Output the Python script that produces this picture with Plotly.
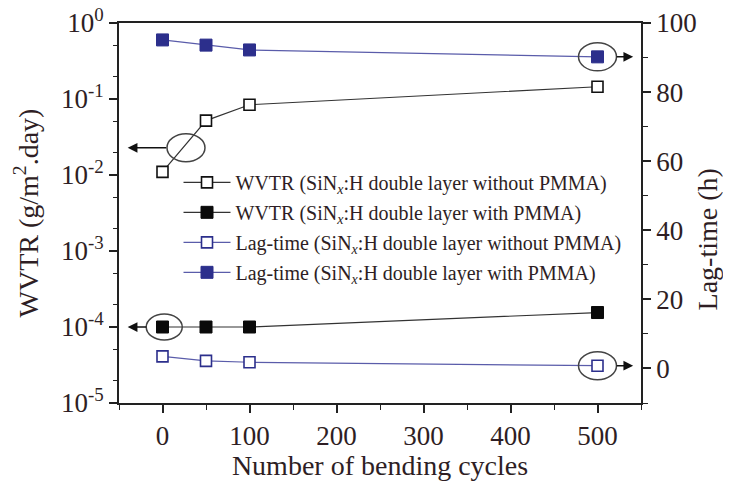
import numpy as np
import plotly.graph_objects as go

# ---- data ----
cycles = [0, 50, 100, 500]
wvtr_without = [0.011, 0.052, 0.084, 0.145]
wvtr_with = [1.0e-4, 1.0e-4, 1.0e-4, 1.55e-4]
lag_without = [3.5, 2.2, 1.8, 0.8]
lag_with = [95.1, 93.6, 92.2, 90.2]

names = [
    "WVTR (SiN<sub><i>x</i></sub>:H double layer without PMMA)",
    "WVTR (SiN<sub><i>x</i></sub>:H double layer with PMMA)",
    "Lag-time (SiN<sub><i>x</i></sub>:H double layer without PMMA)",
    "Lag-time (SiN<sub><i>x</i></sub>:H double layer with PMMA)",
]
left_tickvals = [1e-5, 1e-4, 1e-3, 1e-2, 1e-1, 1e0]
left_ticktext = ["10<sup>-5</sup>", "10<sup>-4</sup>", "10<sup>-3</sup>",
                 "10<sup>-2</sup>", "10<sup>-1</sup>", "10<sup>0</sup>"]
LOG_MIN, LOG_MAX = -5, 0

TXT = "#2e1e24"
AX = "#222222"
BLUE = "#2c2f8c"
BLUE_LINE = "#5a5caa"
FONT = "Liberation Serif"

fig = go.Figure()
fig.add_trace(go.Scatter(x=cycles, y=wvtr_without, name=names[0], legendgroup="a",
                         mode="lines+markers",
                         line=dict(color="#333333", width=1.2),
                         marker=dict(symbol="square", size=11, color="white",
                                     line=dict(color="#111111", width=1.6))))
fig.add_trace(go.Scatter(x=cycles, y=wvtr_with, name=names[1], legendgroup="b",
                         mode="lines+markers",
                         line=dict(color="#333333", width=1.2),
                         marker=dict(symbol="square", size=12, color="#0a0a0a",
                                     line=dict(color="#0a0a0a", width=1))))
fig.add_trace(go.Scatter(x=cycles, y=lag_without, name=names[2], legendgroup="c",
                         yaxis="y2", mode="lines+markers",
                         line=dict(color=BLUE_LINE, width=1.2),
                         marker=dict(symbol="square", size=11, color="white",
                                     line=dict(color=BLUE, width=1.6))))
fig.add_trace(go.Scatter(x=cycles, y=lag_with, name=names[3], legendgroup="d",
                         yaxis="y2", mode="lines+markers",
                         line=dict(color=BLUE_LINE, width=1.2),
                         marker=dict(symbol="square", size=12, color=BLUE,
                                     line=dict(color=BLUE, width=1))))


def log_paper(v):
    return (np.log10(v) - LOG_MIN) / (LOG_MAX - LOG_MIN)


# ellipses (pixel-sized, anchored at data positions)
ell = dict(type="circle", xsizemode="pixel", ysizemode="pixel",
           line=dict(color="#444444", width=1.5), layer="above")
fig.add_shape(**ell, xref="x", yref="paper", xanchor=27, yanchor=log_paper(0.0228),
              x0=-19, x1=19, y0=-14, y1=14)
fig.add_shape(**ell, xref="x", yref="paper", xanchor=2, yanchor=log_paper(1.0e-4),
              x0=-18, x1=18, y0=-13, y1=13)
fig.add_shape(**ell, xref="x", yref="y2", xanchor=500, yanchor=lag_with[3],
              x0=-19, x1=19, y0=-14, y1=14)
fig.add_shape(**ell, xref="x", yref="y2", xanchor=500, yanchor=lag_without[3],
              x0=-19, x1=19, y0=-14, y1=14)

arr = dict(text="", showarrow=True, arrowhead=2, arrowsize=1.3, arrowwidth=1.5,
           arrowcolor="#111111", ay=0)
fig.add_annotation(**arr, xref="x", yref="y", x=-40, y=np.log10(0.0228), ax=40)
fig.add_annotation(**arr, xref="x", yref="y", x=-40, y=np.log10(1.0e-4), ax=20)
fig.add_annotation(**arr, xref="x", yref="y2", x=541, y=lag_with[3], ax=-18)
fig.add_annotation(**arr, xref="x", yref="y2", x=541, y=lag_without[3], ax=-18)

# right axis title as an annotation so it stays inside the page
fig.add_annotation(text="Lag-time (h)", xref="paper", yref="paper",
                   x=1.128, y=0.43, xanchor="center", yanchor="middle",
                   textangle=-90, showarrow=False,
                   font=dict(size=28, family=FONT, color=TXT))

# page body adds an 8px margin, so the figure is drawn 8px smaller and offset
fig.update_layout(
    width=723, height=473,
    margin=dict(l=111, r=90, t=15, b=78),
    paper_bgcolor="white", plot_bgcolor="white",
    font=dict(family=FONT, color=TXT, size=27),
    showlegend=True,
    legend=dict(x=0.114, y=0.632, xanchor="left", yanchor="top",
                bgcolor="rgba(0,0,0,0)", font=dict(size=20, color=TXT),
                tracegroupgap=1, itemwidth=47),
    xaxis=dict(range=[-50, 550], tickvals=[0, 100, 200, 300, 400, 500],
               automargin=False,
               showline=True, linecolor=AX, linewidth=1.6, mirror=True,
               ticks="outside", ticklen=8, tickwidth=1.5, tickcolor=AX,
               minor=dict(dtick=50, tick0=0, ticks="outside", ticklen=5,
                          tickwidth=1.3, tickcolor=AX),
               showgrid=False, zeroline=False,
               title=dict(text="Number of bending cycles", font=dict(size=28),
                          standoff=4)),
    yaxis=dict(type="log", range=[LOG_MIN, LOG_MAX], tickvals=left_tickvals,
               ticktext=left_ticktext, automargin=False,
               ticklabeloverflow="allow",
               showline=True, linecolor=AX, linewidth=1.6,
               ticks="outside", ticklen=8, tickwidth=1.5, tickcolor=AX,
               minor=dict(ticks="outside", ticklen=4, tickwidth=1, tickcolor=AX),
               showgrid=False, zeroline=False,
               title=dict(text="WVTR (g/m<sup>2</sup>.day)", font=dict(size=28),
                          standoff=14)),
    yaxis2=dict(overlaying="y", side="right", range=[-10, 100],
                tickvals=[0, 20, 40, 60, 80, 100], automargin=False,
                ticklabeloverflow="allow",
                showline=True, linecolor=AX, linewidth=1.6,
                ticks="outside", ticklen=8, tickwidth=1.5, tickcolor=AX,
                minor=dict(dtick=10, tick0=0, ticks="outside", ticklen=5,
                           tickwidth=1.3, tickcolor=AX),
                showgrid=False, zeroline=False),
)

fig.write_html("out.html")
